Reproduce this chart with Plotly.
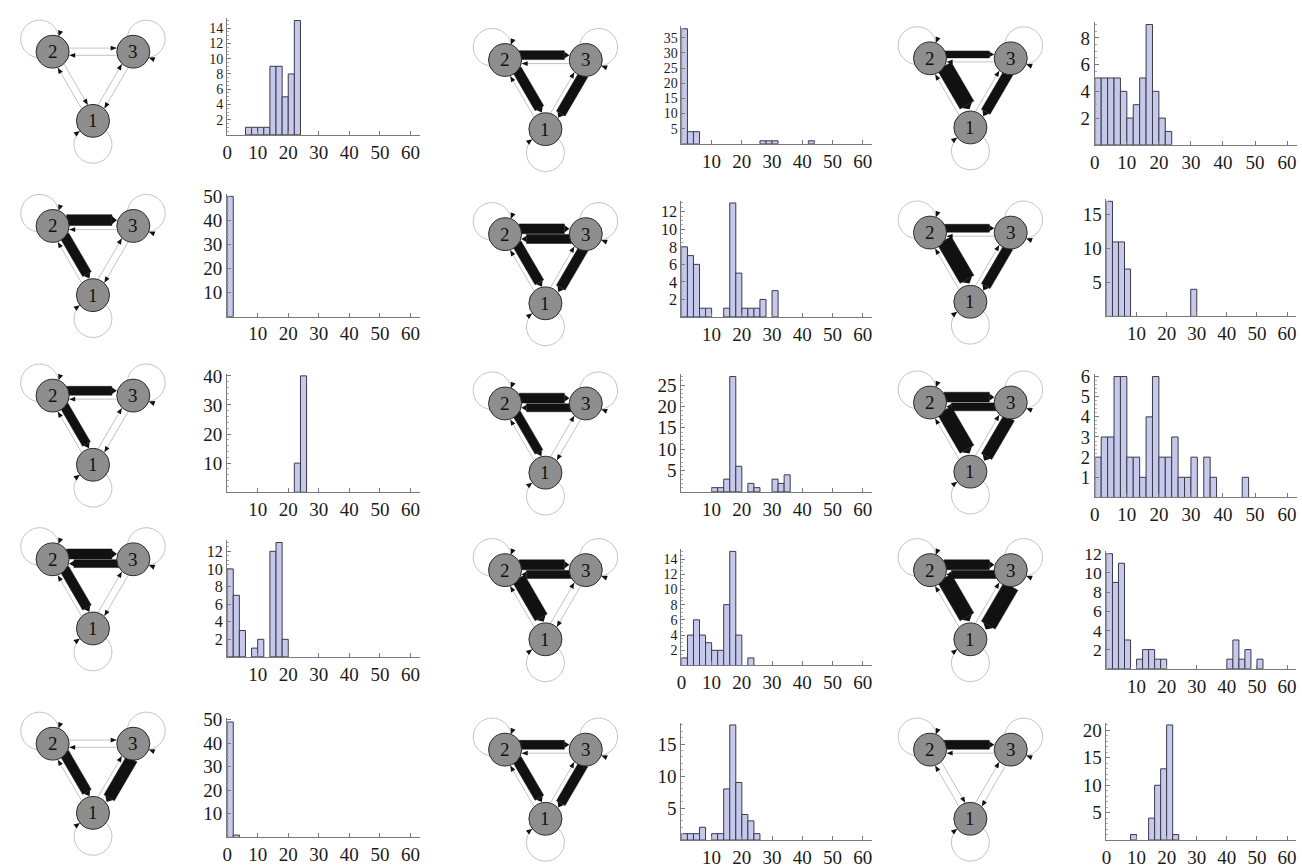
import math
import plotly.graph_objects as go

W, H = 1302, 868
BIN = 2          # histogram bin width
XMAX = 63        # right end of every histogram x-axis

# ---------------- data: histogram counts (bins of width 2 from 0) ----------------
h11 = [0, 0, 0, 1, 1, 1, 1, 9, 9, 5, 8, 15]
h12 = [38, 4, 4, 0, 0, 0, 0, 0, 0, 0, 0, 0, 0, 1, 1, 1, 0, 0, 0, 0, 0, 1]
h13 = [5, 5, 5, 5, 4, 2, 3, 5, 9, 4, 2, 1]
h21 = [50]
h22 = [8, 7, 6, 1, 1, 0, 0, 1, 13, 5, 1, 1, 1, 2, 0, 3]
h23 = [17, 11, 11, 7, 0, 0, 0, 0, 0, 0, 0, 0, 0, 0, 4]
h31 = [0, 0, 0, 0, 0, 0, 0, 0, 0, 0, 0, 10, 40]
h32 = [0, 0, 0, 0, 0, 1, 1, 3, 27, 6, 0, 2, 1, 0, 0, 3, 2, 4]
h33 = [2, 3, 3, 6, 6, 2, 2, 1, 4, 6, 2, 2, 3, 1, 1, 2, 0, 2, 1, 0, 0, 0, 0, 1]
h41 = [10, 7, 3, 0, 1, 2, 0, 12, 13, 2]
h42 = [1, 4, 6, 4, 3, 2, 2, 8, 15, 4, 0, 1]
h43 = [12, 9, 11, 3, 0, 1, 2, 2, 1, 1, 0, 0, 0, 0, 0, 0, 0, 0, 0, 0, 1, 3, 1, 2, 0, 1]
h51 = [49, 1]
h52 = [1, 1, 1, 2, 0, 1, 1, 8, 18, 9, 4, 3, 1]
h53 = [0, 0, 0, 0, 1, 0, 0, 4, 10, 13, 21, 1]
HISTS = [h11, h12, h13, h21, h22, h23, h31, h32, h33, h41, h42, h43, h51, h52, h53]

# y tick step per panel, and whether the x label "0" is printed
Y_STEP = [2, 5, 2, 10, 2, 5, 10, 5, 1, 2, 2, 2, 10, 5, 5]
X_ZERO_LABEL = [1, 0, 1, 0, 0, 0, 0, 0, 1, 0, 1, 0, 1, 0, 1]
X_TICKS = [0, 10, 20, 30, 40, 50, 60]

# network edge strengths per panel: (2->3, 3->2, 2->1, 1->2, 3->1, 1->3); 0 = faint edge
EDGES = [
    [0, 0, 0, 0, 0, 0],
    [9, 0, 10, 0, 10, 0],
    [7, 0, 16, 0, 10, 0],
    [11, 0, 10, 0, 0, 0],
    [10, 9, 10, 0, 10, 0],
    [8, 0, 16, 0, 10, 0],
    [9, 0, 9, 0, 0, 0],
    [10, 8, 9, 0, 0, 0],
    [10, 8, 16, 0, 12, 0],
    [10, 8, 10, 0, 0, 0],
    [10, 8, 14, 0, 0, 0],
    [10, 8, 16, 0, 16, 0],
    [0, 0, 10, 0, 12, 0],
    [9, 0, 10, 0, 10, 0],
    [9, 0, 0, 0, 0, 0],
]
NODE_LABELS = ["1", "2", "3"]

# ---------------- layout (pixels) ----------------
HX0 = [223, 679, 1094, 223, 679, 1105.7, 223, 679, 1094, 223, 679, 1105.7, 223, 679, 1105.7]
HX60 = [407, 861, 1287] * 5
HAXY = [127.7, 136.7, 137.7, 312, 312.3, 311.7, 490, 489.7, 495.3, 657, 665.7, 669, 840, 842.7, 842.7]
HTOP = [11.7, 20, 15.7, 190, 196.7, 195, 372, 372.7, 372.7, 541, 550, 552.3, 723, 726, 726]
NET_X = [47.8, 502, 928.6]
NET_Y = [[43.3, 51.7, 50], [220, 228.3, 226.7], [392, 400, 399], [558, 569, 569], [745, 751, 751]]
UNIT = 40.5     # pixels per network unit
NODE_POS = {"2": (0.0, 0.0), "3": (2.0, 0.0), "1": (1.0, -1.732)}
NODE_R = 0.41
LOOP = {"2": (-0.32, 0.32), "3": (0.32, 0.32), "1": (0.0, -0.59)}
LOOP_R = 0.47

BAR_FILL = "#c6c9ec"
BAR_LINE = "#3a3a48"
AXIS_COL = "#7a7a7a"
FONT = "Liberation Serif"

fig = go.Figure()
layout = dict(width=W, height=H, margin=dict(l=0, r=0, t=0, b=0),
              paper_bgcolor="white", plot_bgcolor="rgba(0,0,0,0)",
              showlegend=False, autosize=False)
shapes, annotations = [], []

MINOR = {1: 0.2, 2: 0.5, 5: 1, 10: 2}

for i, counts in enumerate(HISTS):
    k = i + 1
    xs = [BIN * j + BIN / 2 for j, c in enumerate(counts) if c > 0]
    ys = [c for c in counts if c > 0]
    fig.add_trace(go.Bar(x=xs, y=ys, width=BIN, xaxis=f"x{k}", yaxis=f"y{k}",
                         marker=dict(color=BAR_FILL, line=dict(color=BAR_LINE, width=1)),
                         hoverinfo="skip"))
    ymax = max(counts)
    step = Y_STEP[i]
    top_val = ymax * 1.02
    nxt = math.ceil(ymax / step) * step
    if nxt > ymax and nxt - ymax <= 0.05 * ymax:
        top_val = nxt * 1.01
    x0, x60 = HX0[i], HX60[i]
    xend = x0 + XMAX * (x60 - x0) / 60
    ay, top = HAXY[i], HTOP[i]
    ppu = (ay - top) / ymax
    ytop = ay - top_val * ppu
    yt = [v for v in range(step, int(top_val) + 1, step)]
    yfont = min(19, step * ppu / 1.1)
    xtext = [str(v) if (v != 0 or X_ZERO_LABEL[i]) else "" for v in X_TICKS]
    layout[f"xaxis{k}"] = dict(domain=[x0 / W, xend / W], range=[0, XMAX], anchor=f"y{k}",
                               showgrid=False, zeroline=False, showline=True, linecolor=AXIS_COL,
                               linewidth=1, ticks="inside", ticklen=4, tickcolor=AXIS_COL,
                               tickvals=X_TICKS, ticktext=xtext,
                               tickfont=dict(family=FONT, size=19, color="#1a1a1a"), fixedrange=True)
    layout[f"yaxis{k}"] = dict(domain=[1 - ay / H, 1 - ytop / H], range=[0, top_val], anchor=f"x{k}",
                               showgrid=False, zeroline=False, showline=True, linecolor=AXIS_COL,
                               linewidth=1, ticks="inside", ticklen=4, tickcolor=AXIS_COL,
                               tickvals=yt, tickfont=dict(family=FONT, size=yfont, color="#1a1a1a"),
                               minor=dict(ticks="inside", ticklen=2, tickcolor="#aaaaaa", dtick=MINOR[step]),
                               fixedrange=True)


def poly(pts):
    return "M " + " L ".join(f"{x:.4f},{y:.4f}" for x, y in pts) + " Z"


def tri(tip, ux, uy, length, half):
    """triangle with given tip, pointing along (ux, uy)"""
    bx, by = tip[0] - ux * length, tip[1] - uy * length
    nx, ny = -uy, ux
    return [tip, (bx + nx * half, by + ny * half), (bx - nx * half, by - ny * half)]


EDGE_PAIRS = [("2", "3"), ("3", "2"), ("2", "1"), ("1", "2"), ("3", "1"), ("1", "3")]

for i in range(15):
    r, c = divmod(i, 3)
    k = 16 + i
    cx, cy = NET_X[c], NET_Y[r][c]
    xr = [-1.0, 3.0]
    yr = [-2.9, 0.95]
    px_left, px_right = cx + xr[0] * UNIT, cx + xr[1] * UNIT
    px_top = max(cy - yr[1] * UNIT, 0.0)
    px_bot = min(cy - yr[0] * UNIT, H - 0.5)
    yr = [-(px_bot - cy) / UNIT, (cy - px_top) / UNIT]
    layout[f"xaxis{k}"] = dict(domain=[px_left / W, px_right / W], range=xr, visible=False,
                               anchor=f"y{k}", fixedrange=True)
    layout[f"yaxis{k}"] = dict(domain=[1 - px_bot / H, 1 - px_top / H], range=yr, visible=False,
                               anchor=f"x{k}", fixedrange=True)
    xref, yref = f"x{k}", f"y{k}"
    # self loops (faint circles) with their arrowheads
    for n, (ox, oy) in LOOP.items():
        px, py = NODE_POS[n]
        lx, ly = px + ox, py + oy
        shapes.append(dict(type="circle", xref=xref, yref=yref, x0=lx - LOOP_R, x1=lx + LOOP_R,
                           y0=ly - LOOP_R, y1=ly + LOOP_R, line=dict(color="#c4c4c4", width=1)))
    for n, (ox, oy) in LOOP.items():
        px, py = NODE_POS[n]
        d = math.hypot(ox, oy)
        cos_t = (d * d + NODE_R ** 2 - LOOP_R ** 2) / (2 * d * NODE_R)
        th = math.acos(max(-1, min(1, cos_t)))
        ang = math.atan2(oy, ox) - th
        tip = (px + NODE_R * math.cos(ang), py + NODE_R * math.sin(ang))
        shapes.append(dict(type="path", xref=xref, yref=yref,
                           path=poly(tri(tip, -math.cos(ang), -math.sin(ang), 0.15, 0.065)),
                           fillcolor="#111", line=dict(width=0)))
    # edges
    for (a, b), w in zip(EDGE_PAIRS, EDGES[i]):
        ax_, ay_ = NODE_POS[a]
        bx, by = NODE_POS[b]
        dx, dy = bx - ax_, by - ay_
        L = math.hypot(dx, dy)
        ux, uy = dx / L, dy / L
        lx_, ly_ = -uy, ux  # left-hand normal
        if w <= 0:
            off = 0.09
            s = (ax_ + ux * NODE_R + lx_ * off, ay_ + uy * NODE_R + ly_ * off)
            tip = (bx - ux * NODE_R + lx_ * off, by - uy * NODE_R + ly_ * off)
            shapes.append(dict(type="line", xref=xref, yref=yref, x0=s[0], y0=s[1], x1=tip[0], y1=tip[1],
                               line=dict(color="#b4b4b4", width=0.8)))
            shapes.append(dict(type="path", xref=xref, yref=yref, path=poly(tri(tip, ux, uy, 0.15, 0.06)),
                               fillcolor="#111", line=dict(width=0)))
        else:
            thick = w / UNIT
            off = thick / 2 + 0.01
            s0 = NODE_R * 0.85
            e0 = NODE_R + 0.12
            p1 = (ax_ + ux * s0 + lx_ * (off - thick / 2), ay_ + uy * s0 + ly_ * (off - thick / 2))
            p2 = (ax_ + ux * s0 + lx_ * (off + thick / 2), ay_ + uy * s0 + ly_ * (off + thick / 2))
            p3 = (bx - ux * e0 + lx_ * (off + thick / 2), by - uy * e0 + ly_ * (off + thick / 2))
            p4 = (bx - ux * e0 + lx_ * (off - thick / 2), by - uy * e0 + ly_ * (off - thick / 2))
            shapes.append(dict(type="path", xref=xref, yref=yref, path=poly([p1, p2, p3, p4]),
                               fillcolor="#111", line=dict(color="#111", width=0.5)))
            tip = (bx - ux * (NODE_R - 0.005) + lx_ * off, by - uy * (NODE_R - 0.005) + ly_ * off)
            shapes.append(dict(type="path", xref=xref, yref=yref,
                               path=poly(tri(tip, ux, uy, 0.125, thick / 2 * 0.75)),
                               fillcolor="#111", line=dict(width=0)))
    # nodes
    for n in NODE_LABELS:
        px, py = NODE_POS[n]
        shapes.append(dict(type="circle", xref=xref, yref=yref, x0=px - NODE_R, x1=px + NODE_R,
                           y0=py - NODE_R, y1=py + NODE_R, fillcolor="#8e8e8e",
                           line=dict(color="#2a2a2a", width=1)))
        annotations.append(dict(x=px, y=py, xref=xref, yref=yref, text=n, showarrow=False,
                                font=dict(family=FONT, size=19, color="#111")))

layout["shapes"] = shapes
layout["annotations"] = annotations
fig.update_layout(**layout)
fig.write_html("out.html", config={"displayModeBar": False, "staticPlot": True},
               post_script="document.body.style.margin='0px';")
